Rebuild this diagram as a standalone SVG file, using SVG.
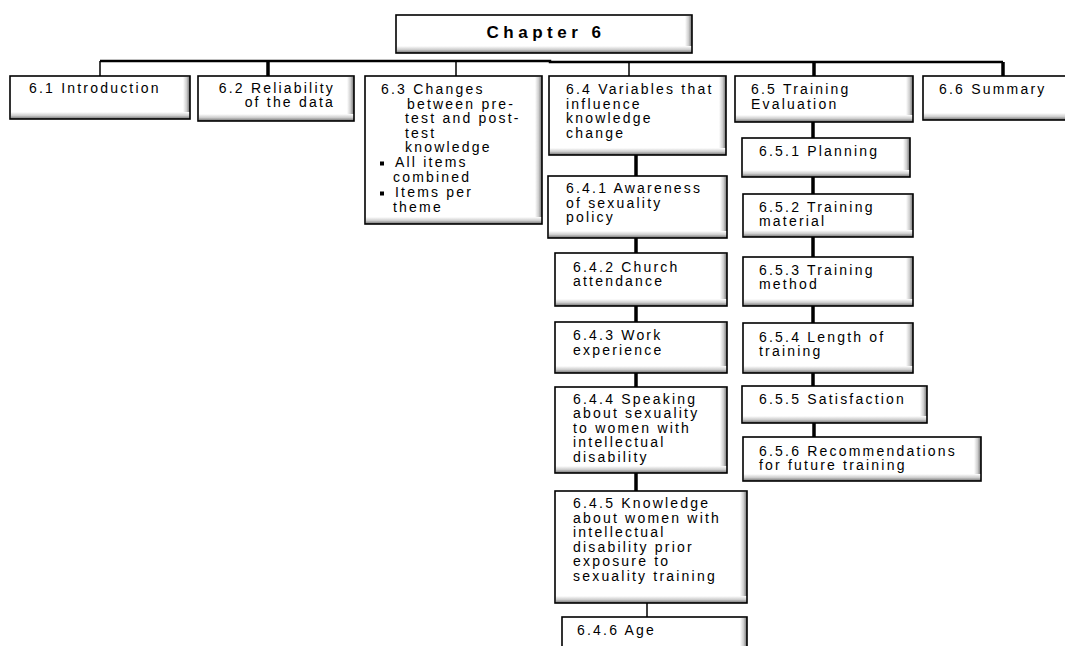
<svg xmlns="http://www.w3.org/2000/svg" width="1065" height="646" viewBox="0 0 1065 646">
<style>
.bx{fill:#fff}
.sr{fill:url(#gr)}
.sb{fill:url(#gb)}
.bd{fill:none;stroke:#000;stroke-width:1.6}
.t{font-family:"Liberation Sans",Arial,sans-serif;font-size:14px;letter-spacing:2.2px;fill:#000}
.h{font-family:"Liberation Sans",Arial,sans-serif;font-size:17px;font-weight:bold;letter-spacing:4.5px;fill:#000}
.c{fill:none;stroke:#000}
.thin{stroke-width:1.5}
.thick{stroke-width:3.5}
.bus{stroke-width:2.5}
</style>
<defs>
<linearGradient id="gr" x1="0" y1="0" x2="1" y2="0">
<stop offset="0" stop-color="#fff"/>
<stop offset="0.5" stop-color="#cfcfcf"/>
<stop offset="1" stop-color="#6e6e6e"/>
</linearGradient>
<linearGradient id="gb" x1="0" y1="0" x2="0" y2="1">
<stop offset="0" stop-color="#fff"/>
<stop offset="0.5" stop-color="#cfcfcf"/>
<stop offset="1" stop-color="#6e6e6e"/>
</linearGradient>
</defs>
<rect width="1065" height="646" fill="#fff"/>

<g id="connectors">
<path class="c bus" d="M100,61 H550 V62 H1003"/>
<path class="c thin" d="M100,61 V76"/>
<path class="c thick" d="M268,61 V76"/>
<path class="c thin" d="M456,61 V76"/>
<path class="c thin" d="M629,62 V76"/>
<path class="c thick" d="M814,62 V76"/>
<path class="c thick" d="M1003,62 V76"/>
<path class="c thick" d="M636,155 V176"/>
<path class="c thick" d="M636,238 V253"/>
<path class="c thick" d="M636,306 V322"/>
<path class="c thick" d="M636,373 V387"/>
<path class="c thick" d="M636,473 V491"/>
<path class="c thin" d="M647,603 V617"/>
<path class="c thick" d="M813,122 V138"/>
<path class="c thick" d="M813,177 V194"/>
<path class="c thick" d="M813,237 V257"/>
<path class="c thick" d="M813,306 V323"/>
<path class="c thick" d="M813,373 V386"/>
<path class="c thick" d="M814,423 V437"/>
</g>

<g id="ch6">
<rect class="bx" x="396" y="15" width="296" height="38"/>
<rect class="sr" x="685" y="16" width="7" height="37"/>
<rect class="sb" x="397" y="46" width="295" height="7"/>
<rect class="bd" x="396" y="15" width="296" height="38"/>
<text class="h" x="546" y="38" text-anchor="middle">Chapter 6</text>
</g>

<g id="n61">
<rect class="bx" x="10" y="76" width="180" height="43"/>
<rect class="sr" x="183" y="77" width="7" height="42"/>
<rect class="sb" x="11" y="112" width="179" height="7"/>
<rect class="bd" x="10" y="76" width="180" height="43"/>
<text class="t" x="29" y="93">6.1 Introduction</text>
</g>

<g id="n62">
<rect class="bx" x="198" y="76" width="156" height="45"/>
<rect class="sr" x="347" y="77" width="7" height="44"/>
<rect class="sb" x="199" y="114" width="155" height="7"/>
<rect class="bd" x="198" y="76" width="156" height="45"/>
<text class="t" x="335" y="93" text-anchor="end">6.2 Reliability</text>
<text class="t" x="335" y="107" text-anchor="end">of the data</text>
</g>

<g id="n63">
<rect class="bx" x="365" y="76" width="177" height="148"/>
<rect class="sr" x="535" y="77" width="7" height="147"/>
<rect class="sb" x="366" y="217" width="176" height="7"/>
<rect class="bd" x="365" y="76" width="177" height="148"/>
<text class="t" x="381" y="94">6.3 Changes</text>
<text class="t" x="407" y="108.5">between pre-</text>
<text class="t" x="405" y="123">test and post-</text>
<text class="t" x="405" y="137.5">test</text>
<text class="t" x="405" y="152">knowledge</text>
<rect x="380" y="161.5" width="4" height="4" fill="#000"/>
<text class="t" x="395" y="167">All items</text>
<text class="t" x="393" y="181.5">combined</text>
<rect x="380" y="191.5" width="4" height="4" fill="#000"/>
<text class="t" x="395" y="197">Items per</text>
<text class="t" x="393" y="211.5">theme</text>
</g>

<g id="n64">
<rect class="bx" x="549" y="76" width="177" height="79"/>
<rect class="sr" x="719" y="77" width="7" height="78"/>
<rect class="sb" x="550" y="148" width="176" height="7"/>
<rect class="bd" x="549" y="76" width="177" height="79"/>
<text class="t" x="566" y="94">6.4 Variables that</text>
<text class="t" x="566" y="108.5">influence</text>
<text class="t" x="566" y="123">knowledge</text>
<text class="t" x="566" y="137.5">change</text>
</g>

<g id="n641">
<rect class="bx" x="548" y="176" width="179" height="62"/>
<rect class="sr" x="720" y="177" width="7" height="61"/>
<rect class="sb" x="549" y="231" width="178" height="7"/>
<rect class="bd" x="548" y="176" width="179" height="62"/>
<text class="t" x="566" y="193">6.4.1 Awareness</text>
<text class="t" x="566" y="207.5">of sexuality</text>
<text class="t" x="566" y="222">policy</text>
</g>

<g id="n642">
<rect class="bx" x="555" y="253" width="172" height="53"/>
<rect class="sr" x="720" y="254" width="7" height="52"/>
<rect class="sb" x="556" y="299" width="171" height="7"/>
<rect class="bd" x="555" y="253" width="172" height="53"/>
<text class="t" x="573" y="271.5">6.4.2 Church</text>
<text class="t" x="573" y="286">attendance</text>
</g>

<g id="n643">
<rect class="bx" x="555" y="322" width="172" height="51"/>
<rect class="sr" x="720" y="323" width="7" height="50"/>
<rect class="sb" x="556" y="366" width="171" height="7"/>
<rect class="bd" x="555" y="322" width="172" height="51"/>
<text class="t" x="573" y="340">6.4.3 Work</text>
<text class="t" x="573" y="354.5">experience</text>
</g>

<g id="n644">
<rect class="bx" x="555" y="387" width="172" height="86"/>
<rect class="sr" x="720" y="388" width="7" height="85"/>
<rect class="sb" x="556" y="466" width="171" height="7"/>
<rect class="bd" x="555" y="387" width="172" height="86"/>
<text class="t" x="573" y="403.5">6.4.4 Speaking</text>
<text class="t" x="573" y="418">about sexuality</text>
<text class="t" x="573" y="432.5">to women with</text>
<text class="t" x="573" y="447">intellectual</text>
<text class="t" x="573" y="461.5">disability</text>
</g>

<g id="n645">
<rect class="bx" x="555" y="491" width="192" height="112"/>
<rect class="sr" x="740" y="492" width="7" height="111"/>
<rect class="sb" x="556" y="596" width="191" height="7"/>
<rect class="bd" x="555" y="491" width="192" height="112"/>
<text class="t" x="573" y="508">6.4.5 Knowledge</text>
<text class="t" x="573" y="522.5">about women with</text>
<text class="t" x="573" y="537">intellectual</text>
<text class="t" x="573" y="551.5">disability prior</text>
<text class="t" x="573" y="566">exposure to</text>
<text class="t" x="573" y="580.5">sexuality training</text>
</g>

<g id="n646">
<rect class="bx" x="562" y="617" width="185" height="45"/>
<rect class="sr" x="740" y="618" width="7" height="44"/>
<rect class="bd" x="562" y="617" width="185" height="45"/>
<text class="t" x="577" y="635">6.4.6 Age</text>
</g>

<g id="n65">
<rect class="bx" x="735" y="76" width="178" height="46"/>
<rect class="sr" x="906" y="77" width="7" height="45"/>
<rect class="sb" x="736" y="115" width="177" height="7"/>
<rect class="bd" x="735" y="76" width="178" height="46"/>
<text class="t" x="751" y="94">6.5 Training</text>
<text class="t" x="751" y="108.5">Evaluation</text>
</g>

<g id="n651">
<rect class="bx" x="742" y="138" width="168" height="39"/>
<rect class="sr" x="903" y="139" width="7" height="38"/>
<rect class="sb" x="743" y="170" width="167" height="7"/>
<rect class="bd" x="742" y="138" width="168" height="39"/>
<text class="t" x="759" y="156">6.5.1 Planning</text>
</g>

<g id="n652">
<rect class="bx" x="743" y="194" width="170" height="43"/>
<rect class="sr" x="906" y="195" width="7" height="42"/>
<rect class="sb" x="744" y="230" width="169" height="7"/>
<rect class="bd" x="743" y="194" width="170" height="43"/>
<text class="t" x="759" y="211.5">6.5.2 Training</text>
<text class="t" x="759" y="225.5">material</text>
</g>

<g id="n653">
<rect class="bx" x="743" y="257" width="170" height="49"/>
<rect class="sr" x="906" y="258" width="7" height="48"/>
<rect class="sb" x="744" y="299" width="169" height="7"/>
<rect class="bd" x="743" y="257" width="170" height="49"/>
<text class="t" x="759" y="275">6.5.3 Training</text>
<text class="t" x="759" y="289">method</text>
</g>

<g id="n654">
<rect class="bx" x="743" y="323" width="170" height="50"/>
<rect class="sr" x="906" y="324" width="7" height="49"/>
<rect class="sb" x="744" y="366" width="169" height="7"/>
<rect class="bd" x="743" y="323" width="170" height="50"/>
<text class="t" x="759" y="341.5">6.5.4 Length of</text>
<text class="t" x="759" y="355.5">training</text>
</g>

<g id="n655">
<rect class="bx" x="742" y="386" width="185" height="37"/>
<rect class="sr" x="920" y="387" width="7" height="36"/>
<rect class="sb" x="743" y="416" width="184" height="7"/>
<rect class="bd" x="742" y="386" width="185" height="37"/>
<text class="t" x="759" y="403.5">6.5.5 Satisfaction</text>
</g>

<g id="n656">
<rect class="bx" x="743" y="437" width="238" height="44"/>
<rect class="sr" x="974" y="438" width="7" height="43"/>
<rect class="sb" x="744" y="474" width="237" height="7"/>
<rect class="bd" x="743" y="437" width="238" height="44"/>
<text class="t" x="759" y="456">6.5.6 Recommendations</text>
<text class="t" x="759" y="470">for future training</text>
</g>

<g id="n66">
<rect class="bx" x="923" y="76" width="150" height="44"/>
<rect class="sb" x="924" y="113" width="149" height="7"/>
<rect class="bd" x="923" y="76" width="150" height="44"/>
<text class="t" x="939" y="94">6.6 Summary</text>
</g>
</svg>
